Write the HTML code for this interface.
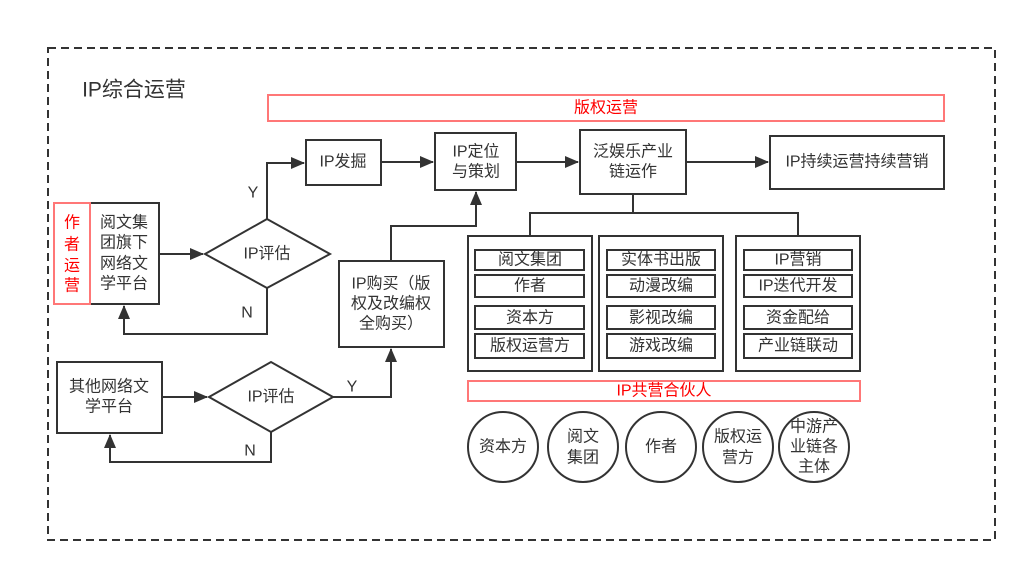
<!DOCTYPE html>
<html><head><meta charset="utf-8"><style>
html,body{margin:0;padding:0;background:#fff;}
svg{display:block;}
text{font-family:"Liberation Sans","Noto Sans CJK SC",sans-serif;font-size:16px;fill:#333;text-anchor:middle;dominant-baseline:central;}
.r{fill:#f00;}
</style></head><body>
<svg width="1027" height="573" viewBox="0 0 1027 573" xmlns="http://www.w3.org/2000/svg">
<defs><marker id="b" markerWidth="14" markerHeight="12" refX="13" refY="6" orient="auto" markerUnits="userSpaceOnUse"><path d="M0,0 L14,6 L0,12 z" fill="#333"/></marker></defs>
<rect x="48" y="48" width="947" height="492" fill="none" stroke="#333" stroke-width="2" stroke-dasharray="8,5"/>
<text x="134" y="90" style="font-size:21px" >IP综合运营</text>
<rect x="268" y="95" width="676" height="26" fill="none" stroke="#f77" stroke-width="2"/>
<text class="r" x="606" y="108">版权运营</text>
<g fill="#fff" stroke="#333" stroke-width="2">
<rect x="306" y="140" width="75" height="45"/>
<rect x="435" y="133" width="81" height="57"/>
<rect x="580" y="130" width="106" height="64"/>
<rect x="770" y="136" width="174" height="53"/>
<rect x="90" y="203" width="69" height="101"/>
<rect x="339" y="261" width="105" height="86"/>
<rect x="57" y="362" width="105" height="71"/>
<polygon points="205,254 267,219 330,254 267,288"/>
<polygon points="209,397 271,362 333,397 271,432"/>
<rect x="468" y="236" width="124" height="135"/>
<rect x="599" y="236" width="124" height="135"/>
<rect x="736" y="236" width="124" height="135"/>
<rect x="475" y="250" width="109" height="20"/><rect x="475" y="275" width="109" height="22"/><rect x="475" y="306" width="109" height="23"/><rect x="475" y="334" width="109" height="24"/>
<rect x="607" y="250" width="108" height="20"/><rect x="607" y="275" width="108" height="22"/><rect x="607" y="306" width="108" height="23"/><rect x="607" y="334" width="108" height="24"/>
<rect x="744" y="250" width="108" height="20"/><rect x="744" y="275" width="108" height="22"/><rect x="744" y="306" width="108" height="23"/><rect x="744" y="334" width="108" height="24"/>
<circle cx="503" cy="447" r="35"/><circle cx="583" cy="447" r="35"/><circle cx="661" cy="447" r="35"/><circle cx="738" cy="447" r="35"/><circle cx="814" cy="447" r="35"/>
</g>
<rect x="54" y="203" width="36" height="101" fill="none" stroke="#f77" stroke-width="2"/>
<rect x="468" y="381" width="392" height="20" fill="none" stroke="#f77" stroke-width="2"/>
<g fill="none" stroke="#333" stroke-width="2">
<path d="M381,162 H433" marker-end="url(#b)"/>
<path d="M516,162 H578" marker-end="url(#b)"/>
<path d="M686,162 H768" marker-end="url(#b)"/>
<path d="M267,219 V163 H304" marker-end="url(#b)"/>
<path d="M159,254 H203" marker-end="url(#b)"/>
<path d="M267,288 V334 H124 V306" marker-end="url(#b)"/>
<path d="M391,261 V226 H476 V192" marker-end="url(#b)"/>
<path d="M162,397 H207" marker-end="url(#b)"/>
<path d="M333,397 H391 V349" marker-end="url(#b)"/>
<path d="M271,432 V462 H110 V435" marker-end="url(#b)"/>
<path d="M633,194 V213 M530,236 V213 H798 V236"/>
</g>
<text x="476" y="152">IP定位</text><text x="476" y="172">与策划</text>
<text x="343" y="162">IP发掘</text>
<text x="633" y="152">泛娱乐产业</text><text x="633" y="172">链运作</text>
<text x="857" y="162">IP持续运营持续营销</text>
<text class="r" x="72" y="223">作</text><text class="r" x="72" y="245">者</text><text class="r" x="72" y="266">运</text><text class="r" x="72" y="286">营</text>
<text x="124" y="223">阅文集</text><text x="124" y="243">团旗下</text><text x="124" y="264">网络文</text><text x="124" y="284">学平台</text>
<text x="267" y="254">IP评估</text><text x="271" y="397">IP评估</text>
<text x="253" y="193">Y</text><text x="247" y="313">N</text>
<text x="352" y="387">Y</text><text x="250" y="451">N</text>
<text x="391" y="284">IP购买（版</text><text x="391" y="304">权及改编权</text><text x="391" y="324">全购买）</text>
<text x="109" y="387">其他网络文</text><text x="109" y="407">学平台</text>
<text x="530" y="260">阅文集团</text><text x="530" y="286">作者</text><text x="530" y="318">资本方</text><text x="530" y="346">版权运营方</text>
<text x="661" y="260">实体书出版</text><text x="661" y="286">动漫改编</text><text x="661" y="318">影视改编</text><text x="661" y="346">游戏改编</text>
<text x="798" y="260">IP营销</text><text x="798" y="286">IP迭代开发</text><text x="798" y="318">资金配给</text><text x="798" y="346">产业链联动</text>
<text class="r" x="664" y="391">IP共营合伙人</text>
<text x="503" y="447">资本方</text>
<text x="583" y="437">阅文</text><text x="583" y="458">集团</text>
<text x="661" y="447">作者</text>
<text x="738" y="437">版权运</text><text x="738" y="458">营方</text>
<text x="814" y="427">中游产</text><text x="814" y="447">业链各</text><text x="814" y="467">主体</text>
</svg>
</body></html>
